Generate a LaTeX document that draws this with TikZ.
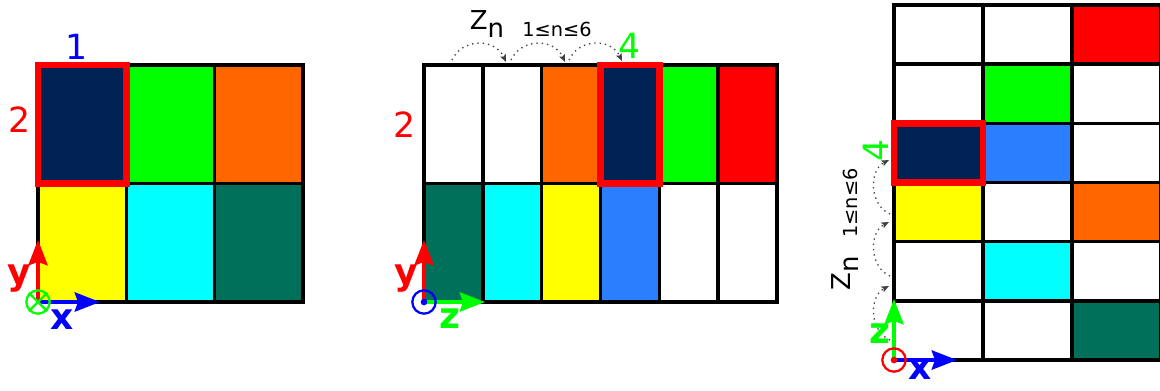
\documentclass[tikz,border=0pt]{standalone}
\usepackage{fontspec}
\setmainfont{DejaVu Sans}
\usetikzlibrary{arrows.meta,calc}
\definecolor{navy}{HTML}{002255}
\definecolor{grn}{HTML}{00FF00}
\definecolor{orng}{HTML}{FF6600}
\definecolor{ylw}{HTML}{FFFF00}
\definecolor{cyn}{HTML}{00FFFF}
\definecolor{tealc}{HTML}{00705A}
\definecolor{blu}{HTML}{2A7FFF}
\definecolor{rd}{HTML}{FF0000}
\begin{document}
\begin{tikzpicture}[x=0.75pt,y=-0.75pt,
  cell/.style={draw=black,line width=2.6pt,inner sep=0pt,outer sep=0pt},
  lcell/.style={cell,minimum width=66.25pt,minimum height=88.875pt},
  mcell/.style={cell,minimum width=44.125pt,minimum height=88.875pt},
  rcell/.style={cell,minimum width=66.75pt,minimum height=44.375pt},
  hl/.style={draw=rd,line width=5pt,inner sep=0pt,outer sep=0pt},
  axis/.style={line width=2.4pt,-{Stealth[length=19pt,width=14.5pt,inset=2.5pt]}},
  hop/.style={black!75,line width=1pt,dash pattern=on 1pt off 3pt,-{Stealth[length=5.5pt,width=4.5pt,inset=1pt]}},
  lab/.style={font=\fontsize{26}{26}\selectfont,inner sep=0pt},
  axl/.style={font=\fontsize{27}{27}\selectfont\bfseries,inner sep=0pt},
  sml/.style={font=\fontsize{14.5}{14.5}\selectfont,inner sep=0pt},
  zn/.style={font=\fontsize{19.5}{19.5}\selectfont,inner sep=0pt},
  orig/.style={circle,line width=1.7pt,minimum size=17.5pt,inner sep=0pt},
  dot/.style={circle,inner sep=0pt,minimum size=5pt}
]
\useasboundingbox (0,0) rectangle (1160,390);
% ---------------- left panel
\foreach \row/\col/\clr in {1/1/navy,1/2/grn,1/3/orng,2/1/ylw,2/2/cyn,2/3/tealc}
  \node[lcell,fill=\clr] (L\row\col) at ({38+88.33*(\col-0.5)},{65+118.5*(\row-0.5)}) {};
\node[hl,minimum width=66.25pt,minimum height=88.875pt] (Lh) at (L11.center) {};
\coordinate (Lo) at (L21.south west);
\coordinate (Ly) at ($(Lo)+(0,-62)$);
\coordinate (Lx) at ($(Lo)+(62,0)$);
\draw[axis,rd] (Lo) -- (Ly);
\draw[axis,blue] (Lo) -- (Lx);
\node[orig,draw=grn] (Lc) at (Lo) {};
\draw[grn,line width=1.7pt] (Lc.north west) -- (Lc.south east) (Lc.north east) -- (Lc.south west);
\node[lab,blue] (L1) at (77,47) {1};
\node[lab,rd] (L2) at (20,120) {2};
\node[axl,rd] (Lyl) at (19,279) {y};
\node[axl,blue] (Lxl) at (62,320) {x};
% ---------------- middle panel
\foreach \row/\col/\clr in {1/1/white,1/2/white,1/3/orng,1/4/navy,1/5/grn,1/6/rd,
                            2/1/tealc,2/2/cyn,2/3/ylw,2/4/blu,2/5/white,2/6/white}
  \node[mcell,fill=\clr] (M\row\col) at ({424+58.83*(\col-0.5)},{65+118.5*(\row-0.5)}) {};
\node[hl,minimum width=44.125pt,minimum height=88.875pt] (Mh) at (M14.center) {};
\coordinate (Mo) at (M21.south west);
\coordinate (My) at ($(Mo)+(0,-62)$);
\coordinate (Mz) at ($(Mo)+(61,0)$);
\draw[axis,rd] (Mo) -- (My);
\draw[axis,grn] (Mo) -- (Mz);
\node[orig,draw=blue] (Mc) at (Mo) {};
\node[dot,fill=blue] (Md) at (Mo) {};
\coordinate (Ma0) at (452,60);
\coordinate (Ma1) at (506,62);
\coordinate (Mb0) at (511,60);
\coordinate (Mb1) at (565,62);
\coordinate (Mc0) at (569,60);
\coordinate (Mc1) at (622,61);
\draw[hop] (Ma0) .. controls (462,38) and (495,38) .. (Ma1);
\draw[hop] (Mb0) .. controls (521,38) and (554,38) .. (Mb1);
\draw[hop] (Mc0) .. controls (579,38) and (611,38) .. (Mc1);
\node[lab,rd] (M2) at (405,125) {2};
\node[lab,grn] (M4) at (630,46) {4};
\node[zn] (Mzn) at (487,24) {Z\raisebox{-6.5pt}{n}};
\node[sml] (Mrange) at (557,29) {1≤n≤6};
\node[axl,rd] (Myl) at (406,279) {y};
\node[axl,grn] (Mzl) at (450,319) {z};
% ---------------- right panel
\foreach \row/\col/\clr in {1/1/white,1/2/white,1/3/rd,
                            2/1/white,2/2/grn,2/3/white,
                            3/1/navy,3/2/blu,3/3/white,
                            4/1/ylw,4/2/white,4/3/orng,
                            5/1/white,5/2/cyn,5/3/white,
                            6/1/white,6/2/white,6/3/tealc}
  \node[rcell,fill=\clr] (R\row\col) at ({894+89*(\col-0.5)},{5+59.17*(\row-0.5)}) {};
\node[hl,minimum width=66.75pt,minimum height=44.375pt] (Rh) at (R31.center) {};
\coordinate (Ro) at (R61.south west);
\coordinate (Rz) at ($(Ro)+(0,-61)$);
\coordinate (Rx) at ($(Ro)+(63,0)$);
\draw[axis,grn] (Ro) -- (Rz);
\draw[axis,blue] (Ro) -- (Rx);
\node[orig,draw=rd] (Rc) at (Ro) {};
\node[dot,fill=rd] (Rd) at (Ro) {};
\coordinate (Ra0) at (890,340);
\coordinate (Ra1) at (889,286);
\coordinate (Rb0) at (890,276);
\coordinate (Rb1) at (889,222);
\coordinate (Rc0) at (890,214);
\coordinate (Rc1) at (889,160);
\draw[hop] (Ra0) .. controls (869,331) and (869,296) .. (Ra1);
\draw[hop] (Rb0) .. controls (869,267) and (869,232) .. (Rb1);
\draw[hop] (Rc0) .. controls (869,205) and (869,170) .. (Rc1);
\node[lab,grn,rotate=90] (R4) at (876,150) {4};
\node[sml,rotate=90] (Rrange) at (850,203) {1≤n≤6};
\node[zn,rotate=90] (Rzn) at (845,273) {Z\raisebox{-6.5pt}{n}};
\node[axl,grn] (Rzl) at (880,334) {z};
\node[axl,blue] (Rxl) at (920,370) {x};
\end{tikzpicture}
\end{document}
